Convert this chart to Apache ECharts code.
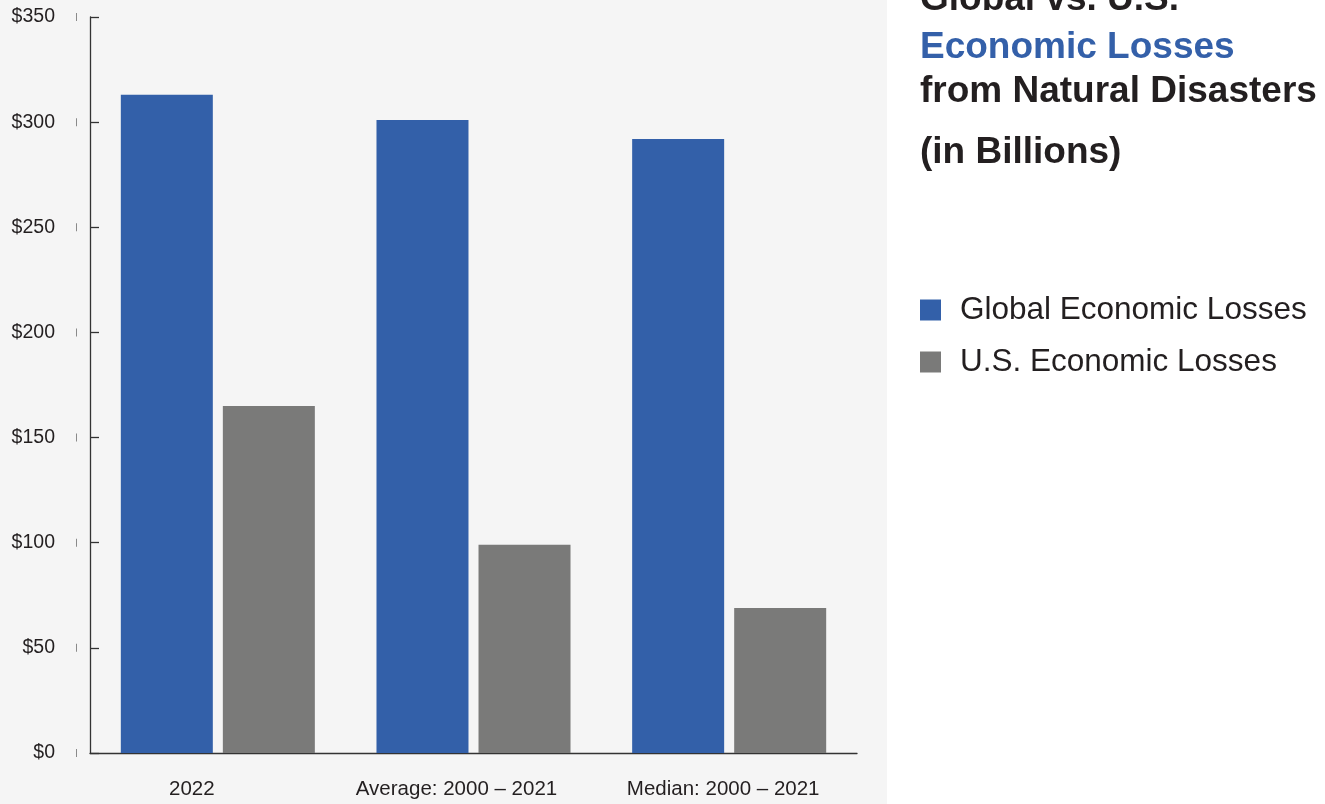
<!DOCTYPE html>
<html>
<head>
<meta charset="utf-8">
<script src="https://cdn.jsdelivr.net/npm/echarts@6/dist/echarts.min.js"></script>
<style>
html,body{margin:0;padding:0;background:#fff;}
#chart{width:1325px;height:804px;}
</style>
</head>
<body>
<div id="chart"></div>
<script>
const categories = ['2022', 'Average: 2000 \u2013 2021', 'Median: 2000 \u2013 2021'];
const globalLosses = [313, 301, 292];
const usLosses = [165, 99, 69];
const seriesNames = ['Global Economic Losses', 'U.S. Economic Losses'];
const titleLines = ['Global vs. U.S.', 'Economic Losses', 'from Natural Disasters', '(in Billions)'];

const chart = echarts.init(document.getElementById('chart'));
const FONT = '"Liberation Sans", Arial, Helvetica, sans-serif';
const titleTops = [-20, 28, 72, 133];
const titleColors = ['#231f20', '#3460a9', '#231f20', '#231f20'];
// label shift (px to the left) of each category label, as in the reference
const labelShiftLeft = [26, 17, 6];

chart.setOption({
  backgroundColor: '#ffffff',
  animation: false,
  graphic: [{
    type: 'rect', z: -10, silent: true,
    shape: {x: 0, y: 0, width: 887, height: 804},
    style: {fill: '#f5f5f5'}
  }],
  title: titleLines.map((t, i) => ({
    text: t, left: 920, top: titleTops[i], padding: 0,
    textStyle: {fontFamily: FONT, fontWeight: 'bold', fontSize: 37, lineHeight: 40, color: titleColors[i]}
  })),
  legend: {
    orient: 'vertical', left: 920, top: 294, padding: 0,
    itemWidth: 21, itemHeight: 21, itemGap: 20, icon: 'rect',
    textStyle: {fontFamily: FONT, fontSize: 31.5, lineHeight: 30, color: '#231f20', padding: [0, 0, 0, 14]},
    data: seriesNames
  },
  grid: {left: 90, right: 468, top: 17, bottom: 51, containLabel: false},
  xAxis: {
    type: 'category',
    data: categories.map((c, i) => ({
      value: c,
      textStyle: {padding: [0, labelShiftLeft[i] * 2, 0, 0]}
    })),
    axisLine: {lineStyle: {color: '#333', width: 1.3}},
    axisTick: {inside: true, length: 18, lineStyle: {color: '#333', width: 1.3}},
    axisLabel: {interval: 0, hideOverlap: false, fontFamily: FONT, fontSize: 20.5, color: '#231f20', margin: 26}
  },
  yAxis: {
    type: 'value', min: 0, max: 350, interval: 50,
    splitLine: {show: false},
    axisLine: {show: true, lineStyle: {color: '#333', width: 1.3}},
    axisTick: {show: true, inside: true, length: 9, lineStyle: {color: '#333', width: 1.3}},
    axisLabel: {
      margin: 13,
      formatter: v => '{a|$' + v + '}{s|}{b|}',
      rich: {
        a: {fontFamily: FONT, fontSize: 19.5, color: '#231f20'},
        s: {width: 21, height: 1},
        b: {width: 1, height: 8, backgroundColor: '#8a8a8a'}
      }
    }
  },
  series: [
    {name: seriesNames[0], type: 'bar', data: globalLosses, barWidth: 92, barGap: '10.9%',
     itemStyle: {color: '#3360a9'}},
    {name: seriesNames[1], type: 'bar', data: usLosses, barWidth: 92,
     itemStyle: {color: '#7a7a79'}}
  ]
});
</script>
</body>
</html>
